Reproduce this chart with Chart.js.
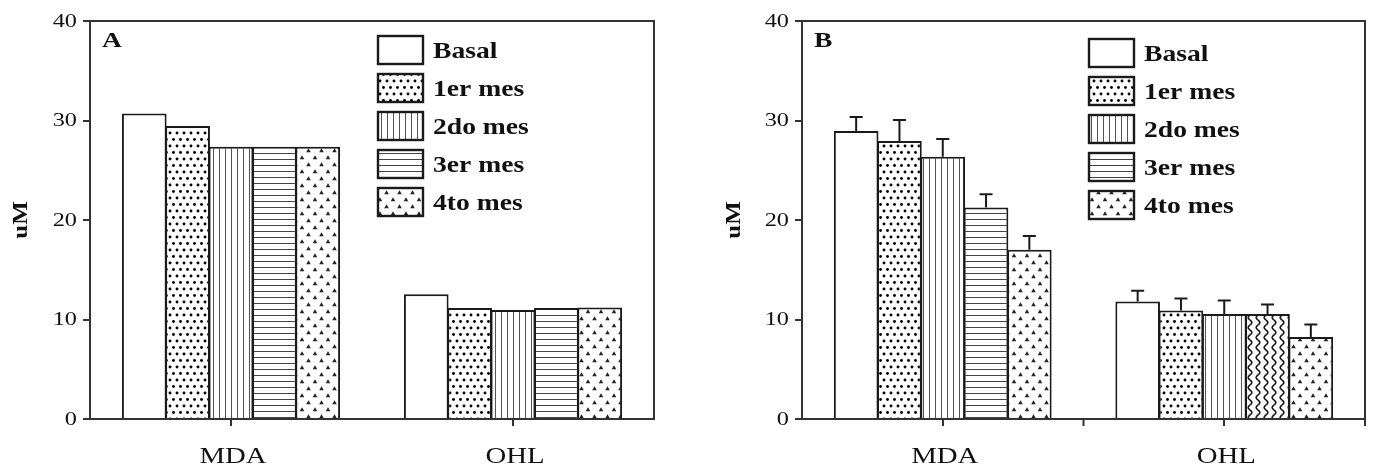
<!DOCTYPE html>
<html><head><meta charset="utf-8">
<script src="https://cdn.jsdelivr.net/npm/chart.js@4"></script>
<style>
html,body{margin:0;padding:0;background:#fff;width:1373px;height:469px;overflow:hidden}
#wa{position:absolute;left:0;top:0;width:686px;height:469px}
#wb{position:absolute;left:686px;top:0;width:687px;height:469px}
canvas{display:block}
</style></head><body>
<div id="wa"><canvas id="ca"></canvas></div>
<div id="wb"><canvas id="cb"></canvas></div>
<script>
// ---- data ----
const categories = ['MDA', 'OHL'];
const seriesNames = ['Basal', '1er mes', '2do mes', '3er mes', '4to mes'];
const yTicks = [0, 10, 20, 30, 40];
const yTitle = 'uM';

// Panel A (no error bars)
const basalA = [30.7, 12.55];
const mes1A  = [29.45, 11.15];
const mes2A  = [27.35, 10.95];
const mes3A  = [27.35, 11.15];
const mes4A  = [27.35, 11.2];

// Panel B (with upper error bars)
const basalB = [28.95, 11.8];
const mes1B  = [27.95, 10.9];
const mes2B  = [26.35, 10.55];
const mes3B  = [21.25, 10.55];
const mes4B  = [17.0, 8.25];
const basalErrB = [1.4, 1.1];
const mes1ErrB  = [2.1, 1.2];
const mes2ErrB  = [1.8, 1.35];
const mes3ErrB  = [1.35, 0.95];
const mes4ErrB  = [1.4, 1.25];

// ---- patterns ----
function mk(w, h, draw) {
  const c = document.createElement('canvas'); c.width = w; c.height = h;
  const x = c.getContext('2d'); x.fillStyle = '#fff'; x.fillRect(0, 0, w, h); draw(x);
  return x.createPattern(c, 'repeat');
}
const patWhite = '#ffffff';
const patDots = mk(7, 13, x => { x.fillStyle = '#000';
  [[2, 3], [5.5, 9.5]].forEach(([a, b]) => { x.beginPath(); x.arc(a, b, 1.45, 0, Math.PI * 2); x.fill(); }); });
const patV = mk(6, 6, x => { x.fillStyle = '#555'; x.fillRect(3, 0, 1, 6); });
const patH = mk(6, 6, x => { x.fillStyle = '#444'; x.fillRect(0, 3, 6, 1); });
const patTri = mk(13, 14, x => { x.fillStyle = '#222';
  [[3, 3.5], [9.5, 10.5]].forEach(([cx, cy]) => { x.beginPath(); x.moveTo(cx, cy - 2.3); x.lineTo(cx + 2.3, cy + 1.8); x.lineTo(cx - 2.3, cy + 1.8); x.closePath(); x.fill(); }); });
const patWave = mk(8, 10, x => { x.strokeStyle = '#111'; x.lineWidth = 1.6; x.beginPath();
  for (let y = -1; y <= 11; y += 0.5) { const xx = 4 + 1.8 * Math.sin(y / 10 * 2 * Math.PI); if (y === -1) x.moveTo(xx, y); else x.lineTo(xx, y); }
  x.stroke(); });
const legendFills = [patWhite, patDots, patV, patH, patTri];

const FONT = 'Liberation Serif';
const INK = '#1a1a1a';

function txt(ctx, s, x, y, font, align, sx) {
  ctx.save(); ctx.translate(x, y); ctx.scale(sx, 1);
  ctx.font = font; ctx.textAlign = align; ctx.fillText(s, 0, 0); ctx.restore();
}

function buildChart(id, values, fills, errors, letter, opt) {
  const datasets = values.map((v, i) => ({
    label: seriesNames[i], data: v, backgroundColor: fills[i],
    borderColor: INK, borderWidth: 2, borderSkipped: 'bottom',
    categoryPercentage: 0.769, barPercentage: 1.03
  }));
  const deco = {
    id: 'deco',
    afterDatasetsDraw(chart) {
      const ctx = chart.ctx, ys = chart.scales.y;
      if (errors) {
        ctx.save(); ctx.strokeStyle = INK; ctx.lineWidth = 2;
        errors.forEach((errArr, di) => {
          const meta = chart.getDatasetMeta(di);
          meta.data.forEach((el, j) => {
            const v = values[di][j], e = errArr[j];
            const y0 = ys.getPixelForValue(v), y1 = ys.getPixelForValue(v + e);
            ctx.beginPath(); ctx.moveTo(el.x, y0); ctx.lineTo(el.x, y1);
            ctx.moveTo(el.x - 6.5, y1); ctx.lineTo(el.x + 6.5, y1); ctx.stroke();
          });
        });
        ctx.restore();
      }
    },
    afterDraw(chart) {
      const ctx = chart.ctx, a = chart.chartArea, xs = chart.scales.x, ys = chart.scales.y;
      ctx.save();
      ctx.strokeStyle = '#333'; ctx.lineWidth = 2;
      ctx.beginPath(); ctx.moveTo(a.left - 1, a.top); ctx.lineTo(a.right, a.top); ctx.lineTo(a.right, a.bottom); ctx.stroke();
      if (opt.extraTicks) {
        const mid = (xs.getPixelForValue(0) + xs.getPixelForValue(1)) / 2;
        ctx.beginPath();
        [mid, a.right].forEach(px => { ctx.moveTo(px, a.bottom); ctx.lineTo(px, a.bottom + 7); });
        ctx.stroke();
      }
      ctx.fillStyle = '#111';
      // y tick labels
      ctx.textBaseline = 'middle';
      yTicks.forEach(v => txt(ctx, String(v), a.left - 13, ys.getPixelForValue(v) + 1, '18px "' + FONT + '"', 'right', 1.35));
      // x category labels
      ctx.textBaseline = 'alphabetic';
      categories.forEach((c, i) => txt(ctx, c, xs.getPixelForValue(i) + 2, 463, '24px "' + FONT + '"', 'center', 1.2));
      // y title
      ctx.save(); ctx.translate(opt.titleX, (a.top + a.bottom) / 2); ctx.rotate(-Math.PI / 2);
      ctx.font = 'bold 25px "' + FONT + '"'; ctx.textAlign = 'center'; ctx.textBaseline = 'middle';
      ctx.scale(1, 0.85); ctx.fillText(yTitle, 0, 0); ctx.restore();
      // panel letter
      ctx.textBaseline = 'middle';
      txt(ctx, letter, a.left + 12, 41, 'bold 22px "' + FONT + '"', 'left', 1.25);
      // legend
      seriesNames.forEach((name, i) => {
        const bx = opt.lx, by = opt.ly + i * 38;
        ctx.fillStyle = legendFills[i]; ctx.fillRect(bx, by, 47, 30);
        ctx.strokeStyle = INK; ctx.lineWidth = 2.4; ctx.strokeRect(bx + 1, by + 1, 45, 28);
        ctx.fillStyle = '#111';
        txt(ctx, name, bx + 56, by + 17, 'bold 23px "' + FONT + '"', 'left', 1.2);
      });
      ctx.restore();
    }
  };
  return new Chart(document.getElementById(id), {
    type: 'bar',
    data: { labels: categories, datasets },
    options: {
      responsive: true, maintainAspectRatio: false, animation: false,
      layout: { padding: { top: 21, right: opt.padRight, left: 0, bottom: 0 } },
      plugins: { legend: { display: false }, tooltip: { enabled: false } },
      scales: {
        x: {
          offset: true,
          grid: { display: true, offset: false, drawOnChartArea: false, drawTicks: true, tickLength: 7, color: '#333', lineWidth: 2 },
          border: { display: true, color: '#333', width: 2 },
          ticks: { display: false },
          afterFit(s) { s.height = 50; }
        },
        y: {
          min: 0, max: 40,
          afterBuildTicks(s) { s.ticks = yTicks.map(v => ({ value: v })); },
          grid: { drawOnChartArea: false, tickLength: 7, color: '#333', lineWidth: 2 },
          border: { display: true, color: '#333', width: 2 },
          ticks: { display: false },
          afterFit(s) { s.width = opt.yWidth; }
        }
      }
    },
    plugins: [deco]
  });
}

buildChart('ca', [basalA, mes1A, mes2A, mes3A, mes4A],
  [patWhite, patDots, patV, patH, patTri], null, 'A',
  { padRight: 32, yWidth: 90, titleX: 22, lx: 377, ly: 35, extraTicks: false });

buildChart('cb', [basalB, mes1B, mes2B, mes3B, mes4B],
  [patWhite, patDots, patV, [patH, patWave], patTri],
  [basalErrB, mes1ErrB, mes2ErrB, mes3ErrB, mes4ErrB], 'B',
  { padRight: 8, yWidth: 116, titleX: 49, lx: 402, ly: 38, extraTicks: true });
</script>
</body></html>
